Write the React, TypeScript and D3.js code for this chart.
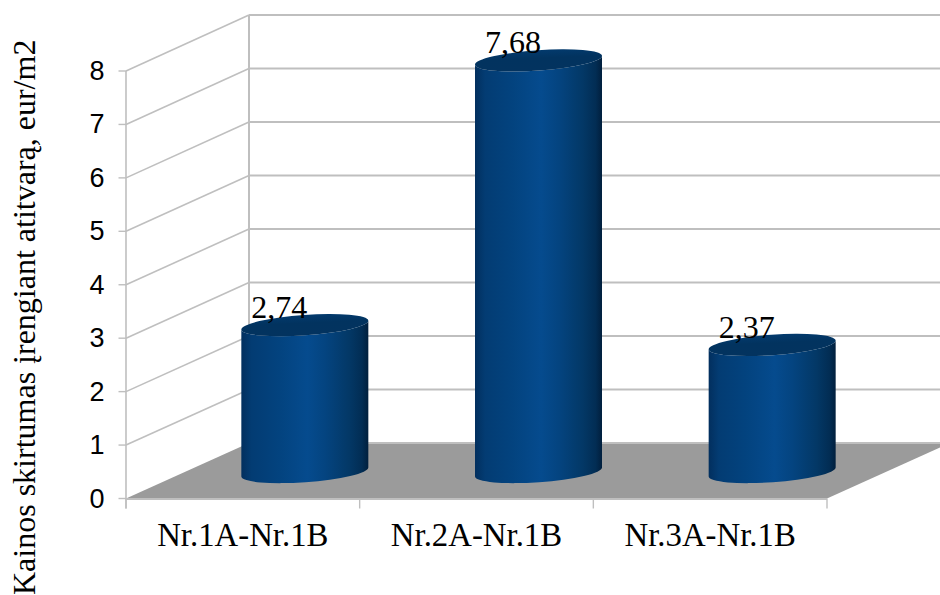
import React from "react";
import * as d3 from "d3";

const categories = ["Nr.1A-Nr.1B", "Nr.2A-Nr.1B", "Nr.3A-Nr.1B"];
const values = [2.74, 7.68, 2.37];
const valueLabels = ["2,74", "7,68", "2,37"];
const yTicks = [0, 1, 2, 3, 4, 5, 6, 7, 8];
const axisTitle = "Kainos skirtumas įrengiant atitvarą, eur/m2";

const WIDTH = 940;
const HEIGHT = 595;
const GRID = "#bfbfbf";

// Oblique box: front plane, back wall and the plane the cylinders stand in.
const front = { left: 126, right: 827, y0: 498.5, y8: 71 };
const back = { left: 249, right: 950, y0: 443, y8: 15 };
const floorMidY = 472;
const perUnit = 53.6;
const depthShift = (back.left - front.left) / 2 + 0.5;

const yFront = d3.scaleLinear().domain([0, 8]).range([front.y0, front.y8]);
const yBack = d3.scaleLinear().domain([0, 8]).range([back.y0, back.y8]);
const yBar = d3.scaleLinear().domain([0, 8]).range([floorMidY, floorMidY - 8 * perUnit]);
const xBand = d3.scaleBand<string>().domain(categories).range([front.left, front.right]);

const BAR_W = 127;
const TILT = 4.5; // vertical offset of an ellipse's ends from its centre
const RX = Math.hypot(BAR_W / 2, TILT);
const RY = 10.2;
const ANGLE = (Math.atan2(-TILT, BAR_W / 2) * 180) / Math.PI;

function cylinderBody(cx: number, top: number, base: number) {
  const h = BAR_W / 2;
  return `M${cx - h},${top + TILT} L${cx - h},${base + TILT} A${RX},${RY} ${ANGLE} 0 0 ${cx + h},${base - TILT} L${cx + h},${top - TILT} A${RX},${RY} ${ANGLE} 0 1 ${cx - h},${top + TILT} Z`;
}

function cylinderCap(cx: number, top: number) {
  const h = BAR_W / 2;
  return `M${cx - h},${top + TILT} A${RX},${RY} ${ANGLE} 1 1 ${cx + h},${top - TILT} A${RX},${RY} ${ANGLE} 1 1 ${cx - h},${top + TILT} Z`;
}

const sideStops: [string, string][] = [
  ["0%", "#022f5e"],
  ["8%", "#033c73"],
  ["30%", "#03437f"],
  ["52%", "#054b8e"],
  ["66%", "#044480"],
  ["85%", "#033866"],
  ["95%", "#022d54"],
  ["100%", "#011f3d"],
];

const capStops: [string, string][] = [
  ["0%", "#033d73"],
  ["50%", "#02335f"],
  ["100%", "#03335f"],
];

export default function App() {
  return (
    <svg
      width={WIDTH}
      height={HEIGHT}
      viewBox={`0 0 ${WIDTH} ${HEIGHT}`}
      style={{ position: "absolute", left: 0, top: 0, background: "#fff" }}
    >
      <defs>
        <linearGradient id="cyl-side" x1="0" x2="1" y1="0" y2="0">
          {sideStops.map(([o, c]) => (
            <stop key={o} offset={o} stopColor={c} />
          ))}
        </linearGradient>
        <linearGradient id="cyl-cap" x1="0" x2="0.25" y1="0" y2="1">
          {capStops.map(([o, c]) => (
            <stop key={o} offset={o} stopColor={c} />
          ))}
        </linearGradient>
      </defs>

      {/* floor */}
      <polygon
        points={`${front.left},${front.y0} ${back.left},${back.y0} ${back.right},${back.y0} ${front.right},${front.y0}`}
        fill="#9b9b9b"
      />
      <line x1={back.left} x2={WIDTH} y1={back.y0} y2={back.y0} stroke={GRID} strokeWidth={2} />
      <line x1={front.left} x2={front.right} y1={front.y0 + 0.5} y2={front.y0 + 0.5} stroke={GRID} strokeWidth={2} />

      {/* walls and grid */}
      {yTicks.filter((t) => t > 0).map((t) => (
        <g key={t} stroke={GRID} fill="none">
          <line x1={front.left} y1={yFront(t)} x2={back.left} y2={yBack(t)} strokeWidth={1.6} />
          <line x1={back.left} y1={yBack(t)} x2={WIDTH} y2={yBack(t)} strokeWidth={2} />
        </g>
      ))}
      <line x1={back.left} x2={back.left} y1={yBack(8)} y2={back.y0} stroke={GRID} strokeWidth={2} />
      <line x1={front.left} x2={front.left} y1={yFront(8)} y2={front.y0 + 10} stroke={GRID} strokeWidth={1.6} />

      {/* ticks */}
      {yTicks.map((t) => (
        <line key={t} x1={118.5} x2={front.left} y1={yFront(t)} y2={yFront(t)} stroke={GRID} strokeWidth={1.4} />
      ))}
      {[...categories.map((c) => xBand(c)!), front.right].map((x) => (
        <line key={x} x1={x} x2={x} y1={front.y0} y2={front.y0 + 10} stroke={GRID} strokeWidth={1.4} />
      ))}

      {/* cylinders */}
      {categories.map((c, i) => {
        const cx = xBand(c)! + xBand.bandwidth() / 2 + depthShift;
        const top = yBar(values[i]);
        return (
          <g key={c}>
            <path d={cylinderBody(cx, top, floorMidY)} fill="url(#cyl-side)" />
            <path d={cylinderCap(cx, top)} fill="url(#cyl-cap)" />
            <text
              x={cx - 25.5}
              y={top - 7}
              textAnchor="middle"
              fontFamily="'Liberation Serif'"
              fontSize={32}
              fill="#000"
            >
              {valueLabels[i]}
            </text>
          </g>
        );
      })}

      {/* y tick labels */}
      {yTicks.map((t) => (
        <text
          key={t}
          x={104.5}
          y={yFront(t) + 9}
          textAnchor="end"
          fontFamily="'Liberation Sans'"
          fontSize={27}
          fill="#000"
        >
          {t}
        </text>
      ))}

      {/* category labels */}
      {categories.map((c) => (
        <text
          key={c}
          x={xBand(c)! + xBand.bandwidth() / 2}
          y={546}
          textAnchor="middle"
          fontFamily="'Liberation Serif'"
          fontSize={32.8}
          fill="#000"
        >
          {c}
        </text>
      ))}

      {/* value axis title */}
      <text
        transform="translate(35,595) rotate(-90)"
        fontFamily="'Liberation Serif'"
        fontSize={32}
        fill="#000"
      >
        {axisTitle}
      </text>
    </svg>
  );
}
